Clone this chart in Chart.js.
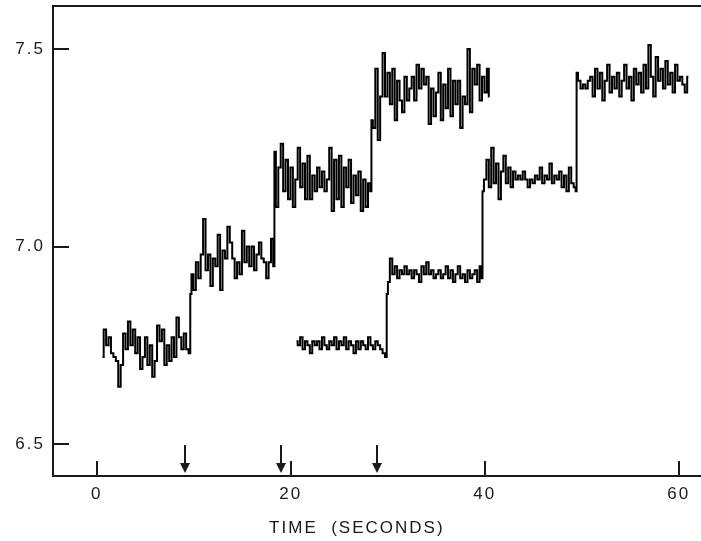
<!DOCTYPE html>
<html>
<head>
<meta charset="utf-8">
<script src="https://cdn.jsdelivr.net/npm/chart.js@4/dist/chart.umd.min.js"></script>
<style>
html,body{margin:0;padding:0;background:#fff;}
#wrap{width:701px;height:541px;}
</style>
</head>
<body>
<div id="wrap"><canvas id="c" width="701" height="541"></canvas></div>
<script>
// ---------- data ----------
const xTicks = [0, 20, 40, 60];
const yTicks = [6.5, 7.0, 7.5];
const arrowTimes = [9.07, 18.97, 28.87];
const xTitle = 'TIME  (SECONDS)';

const timesA = [
  0.6,0.85,1.1,1.35,1.6,1.85,2.1,2.35,2.6,2.85,3.1,3.35,3.6,3.85,4.1,4.35,4.6,4.85,5.1,5.35,
  5.6,5.85,6.1,6.35,6.6,6.85,7.1,7.35,7.6,7.85,8.1,8.35,8.6,8.85,9.1,9.35,9.6,
  9.7,
  9.85,10.1,10.35,10.6,10.85,11.1,11.35,11.6,11.85,12.1,12.35,12.6,12.85,13.1,13.35,13.6,13.85,
  14.1,14.35,14.6,14.85,15.1,15.35,15.6,15.85,16.1,16.35,16.6,16.85,17.1,17.35,17.6,17.85,18.1,
  18.3,18.35,
  18.6,18.85,19.1,19.35,19.6,19.85,20.1,20.35,20.6,20.85,21.1,21.35,21.6,21.85,22.1,22.35,22.6,
  22.85,23.1,23.35,23.6,23.85,24.1,24.35,24.6,24.85,25.1,25.35,25.6,25.85,26.1,26.35,26.6,26.85,
  27.1,27.35,27.6,27.85,28.1,
  28.3,28.35,
  28.6,28.85,29.1,29.35,29.6,29.85,30.1,30.35,30.6,30.85,31.1,31.35,31.6,31.85,32.1,32.35,32.6,
  32.85,33.1,33.35,33.6,33.85,34.1,34.35,34.6,34.85,35.1,35.35,35.6,35.85,36.1,36.35,36.6,36.85,
  37.1,37.35,37.6,37.85,38.1,38.35,38.6,38.85,39.1,39.35,39.6,39.85,40.1,40.35,40.5
];
const valuesA = [
  6.72,6.79,6.75,6.77,6.73,6.72,6.71,6.645,6.70,6.78,6.74,6.81,6.75,6.79,6.73,6.77,6.69,6.72,6.77,6.70,
  6.75,6.67,6.71,6.80,6.76,6.79,6.70,6.75,6.71,6.77,6.72,6.82,6.77,6.74,6.78,6.74,6.73,
  6.88,
  6.93,6.89,6.96,6.92,6.98,7.07,6.94,6.98,6.90,6.97,6.95,7.03,6.89,6.99,6.97,7.05,7.01,
  6.97,6.92,6.96,6.93,7.04,6.96,7.00,6.95,7.00,6.94,6.98,7.01,6.97,6.96,6.92,6.96,7.02,
  6.95,7.24,
  7.10,7.20,7.26,7.14,7.22,7.12,7.20,7.10,7.17,7.25,7.15,7.21,7.12,7.23,7.12,7.18,7.14,
  7.20,7.15,7.19,7.14,7.17,7.25,7.09,7.22,7.12,7.23,7.10,7.20,7.15,7.22,7.11,7.18,7.13,
  7.19,7.09,7.17,7.10,7.16,
  7.14,7.32,
  7.30,7.45,7.27,7.38,7.49,7.38,7.44,7.36,7.45,7.32,7.42,7.37,7.34,7.43,7.37,7.40,7.43,
  7.37,7.46,7.40,7.45,7.41,7.43,7.31,7.40,7.33,7.39,7.44,7.32,7.41,7.35,7.45,7.33,7.42,
  7.36,7.42,7.30,7.38,7.36,7.50,7.34,7.45,7.41,7.46,7.37,7.43,7.39,7.45,7.38
];

const timesB = [
  20.6,20.85,21.1,21.35,21.6,21.85,22.1,22.35,22.6,22.85,23.1,23.35,23.6,23.85,24.1,24.35,24.6,
  24.85,25.1,25.35,25.6,25.85,26.1,26.35,26.6,26.85,27.1,27.35,27.6,27.85,28.1,28.35,28.6,28.85,
  29.1,29.35,29.6,29.85,
  29.95,
  30.1,30.35,30.6,30.85,31.1,31.35,31.6,31.85,32.1,32.35,32.6,32.85,33.1,33.35,33.6,33.85,34.1,
  34.35,34.6,34.85,35.1,35.35,35.6,35.85,36.1,36.35,36.6,36.85,37.1,37.35,37.6,37.85,38.1,38.35,
  38.6,38.85,39.1,39.35,39.6,
  39.75,39.8,
  40.05,40.3,40.55,40.8,41.05,41.3,41.55,41.8,42.05,42.3,42.55,42.8,43.05,43.3,43.55,43.8,44.05,
  44.3,44.55,44.8,45.05,45.3,45.55,45.8,46.05,46.3,46.55,46.8,47.05,47.3,47.55,47.8,48.05,48.3,
  48.55,48.8,49.05,49.3,
  49.45,49.5,
  49.75,50.0,50.25,50.5,50.75,51.0,51.25,51.5,51.75,52.0,52.25,52.5,52.75,53.0,53.25,53.5,53.75,
  54.0,54.25,54.5,54.75,55.0,55.25,55.5,55.75,56.0,56.25,56.5,56.75,57.0,57.25,57.5,57.75,58.0,
  58.25,58.5,58.75,59.0,59.25,59.5,59.75,60.0,60.25,60.5,60.75,61.0
];
const valuesB = [
  6.76,6.75,6.77,6.74,6.76,6.75,6.73,6.76,6.75,6.76,6.74,6.77,6.75,6.74,6.76,6.75,6.77,
  6.74,6.76,6.75,6.77,6.74,6.76,6.75,6.73,6.76,6.74,6.76,6.75,6.74,6.77,6.75,6.74,6.76,
  6.75,6.74,6.73,6.72,
  6.88,
  6.91,6.97,6.93,6.95,6.92,6.94,6.93,6.95,6.93,6.94,6.92,6.94,6.93,6.91,6.95,6.93,6.96,
  6.93,6.94,6.92,6.93,6.94,6.92,6.93,6.95,6.92,6.94,6.91,6.93,6.95,6.92,6.93,6.91,6.94,
  6.92,6.93,6.94,6.91,6.95,
  6.92,7.14,
  7.17,7.22,7.15,7.25,7.16,7.21,7.12,7.19,7.23,7.16,7.20,7.15,7.19,7.17,7.18,7.17,7.19,
  7.17,7.15,7.17,7.16,7.18,7.17,7.20,7.16,7.18,7.17,7.21,7.16,7.18,7.17,7.19,7.15,7.18,
  7.14,7.20,7.16,7.15,
  7.14,7.44,
  7.42,7.40,7.41,7.40,7.42,7.43,7.38,7.45,7.40,7.44,7.37,7.42,7.46,7.39,7.43,7.40,7.44,
  7.38,7.42,7.46,7.40,7.43,7.37,7.45,7.41,7.44,7.39,7.46,7.40,7.51,7.43,7.38,7.48,7.42,
  7.45,7.40,7.47,7.41,7.44,7.39,7.46,7.42,7.43,7.41,7.39,7.43
];

// ---------- chart ----------
const INK = '#1a1a1a';
const FONT = {family: '"Liberation Sans", Arial, sans-serif', size: 17};

const framePlugin = {
  id: 'frame',
  beforeLayout(chart) { chart.ctx.letterSpacing = '2px'; },
  beforeDraw(chart) { chart.ctx.letterSpacing = '2px'; },
  afterDraw(chart) {
    const {ctx, chartArea: a, scales: {x, y}} = chart;
    ctx.save();
    ctx.letterSpacing = '0px';
    ctx.strokeStyle = INK;
    ctx.fillStyle = INK;
    ctx.lineWidth = 2;
    ctx.lineCap = 'butt';
    // frame: left, top, bottom
    ctx.beginPath();
    ctx.moveTo(a.left, a.bottom + 1); ctx.lineTo(a.left, a.top - 1);
    ctx.moveTo(a.left - 1, a.top); ctx.lineTo(chart.width, a.top);
    ctx.moveTo(a.left - 1, a.bottom); ctx.lineTo(chart.width, a.bottom);
    ctx.stroke();
    // inward ticks
    ctx.beginPath();
    yTicks.forEach(v => {
      const p = Math.round(y.getPixelForValue(v));
      ctx.moveTo(a.left, p); ctx.lineTo(a.left + 16, p);
    });
    xTicks.forEach(v => {
      const p = Math.round(x.getPixelForValue(v));
      ctx.moveTo(p, a.bottom); ctx.lineTo(p, a.bottom - 15);
    });
    ctx.stroke();
    // arrows marking additions
    arrowTimes.forEach(t => {
      const p = Math.round(x.getPixelForValue(t));
      ctx.beginPath();
      ctx.moveTo(p, a.bottom - 31); ctx.lineTo(p, a.bottom - 10);
      ctx.stroke();
      ctx.beginPath();
      ctx.moveTo(p - 5, a.bottom - 13);
      ctx.lineTo(p + 5, a.bottom - 13);
      ctx.lineTo(p, a.bottom - 3);
      ctx.closePath();
      ctx.fill();
    });
    ctx.restore();
  }
};

const mk = (ts, vs) => ts.map((t, i) => ({x: t, y: vs[i]}));

new Chart(document.getElementById('c'), {
  type: 'line',
  data: {
    datasets: [
      {label: 'A', data: mk(timesA, valuesA), borderColor: '#000', borderWidth: 2, pointRadius: 0, stepped: 'middle', fill: false},
      {label: 'B', data: mk(timesB, valuesB), borderColor: '#000', borderWidth: 2, pointRadius: 0, stepped: 'middle', fill: false}
    ]
  },
  options: {
    responsive: false,
    animation: false,
    devicePixelRatio: 1,
    layout: {padding: {top: 6, right: 0, left: 0, bottom: 0}},
    plugins: {legend: {display: false}, tooltip: {enabled: false}},
    scales: {
      x: {
        type: 'linear', min: -4.5, max: 62.3,
        afterBuildTicks(s) { s.ticks = xTicks.map(v => ({value: v})); },
        afterFit(s) { s.height = 65; s.paddingLeft = 0; s.paddingRight = 0; },
        grid: {display: false, drawTicks: false, tickLength: 0},
        border: {display: false},
        ticks: {color: INK, font: FONT, padding: 8, maxRotation: 0, autoSkip: false,
                callback: v => String(v)},
        title: {display: true, text: xTitle + '      ', color: INK, font: FONT,
                padding: {top: 0, bottom: 2}}
      },
      y: {
        type: 'linear', min: 6.419, max: 7.609,
        afterBuildTicks(s) { s.ticks = yTicks.map(v => ({value: v})); },
        afterFit(s) { s.width = 53; s.paddingTop = 0; s.paddingBottom = 0; },
        grid: {display: false, drawTicks: false, tickLength: 0},
        border: {display: false},
        ticks: {color: INK, font: FONT, padding: 8, autoSkip: false,
                callback: v => v.toFixed(1)}
      }
    }
  },
  plugins: [framePlugin]
});
</script>
</body>
</html>
